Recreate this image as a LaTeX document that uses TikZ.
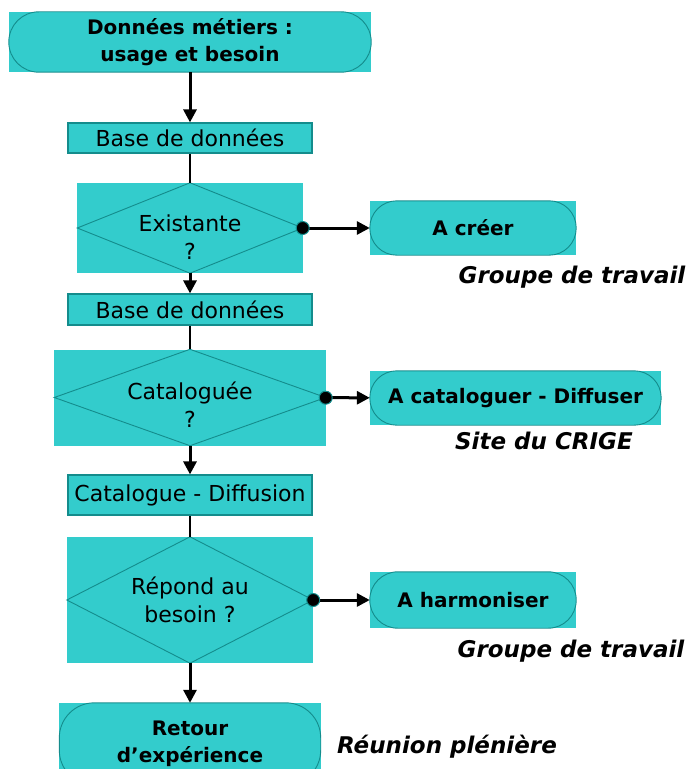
\documentclass[tikz,border=0pt]{standalone}
\usepackage{fontspec}
\setmainfont{DejaVu Sans}
\usetikzlibrary{arrows.meta}
\definecolor{turq}{RGB}{51,204,204}
\definecolor{turqdark}{RGB}{20,140,140}

\begin{document}
\begin{tikzpicture}[x=1bp, y=-1bp,
	every node/.style={fill=turq, inner sep=0pt, align=center, font=\fontsize{22bp}{28bp}\selectfont},
	gras/.style={font=\fontsize{20bp}{27bp}\selectfont\bfseries},
	boite/.style={draw=turqdark, line width=1.2bp},
	note/.style={fill=none, anchor=base, font=\fontsize{23bp}{28bp}\selectfont\bfseries\itshape},
	contour/.style={draw=turqdark, line width=0.9bp},
	lien/.style={line width=1.8bp},
	fleche/.style={line width=3bp, -{Triangle[length=13bp,width=13bp]}},
	sortie/.style={line width=3bp, shorten <=-7bp, {Circle[length=14bp,line width=1bp,color=turqdark,fill=black]}-{Triangle[length=13bp,width=13bp]}}]
	\useasboundingbox (0,0) rectangle (696,769);
	% colonne principale
	\node[gras, minimum width=362bp, minimum height=60bp] (donnees) at (190,42) {Données métiers :\\usage et besoin};
	\node[boite, minimum width=244bp, minimum height=30bp] (base1) at (190,138) {Base de données};
	\node[minimum width=225bp, minimum height=90bp] (exist) at (190,228) {\rule{0pt}{35bp}Existante\\?};
	\node[boite, minimum width=244bp, minimum height=31bp] (base2) at (190,309.5) {Base de données};
	\node[minimum width=271bp, minimum height=96bp] (catal) at (190,397.5) {\rule{0pt}{31bp}Cataloguée\\?};
	\node[boite, minimum width=244bp, minimum height=40bp] (catdiff) at (190,495) {Catalogue - Diffusion};
	\node[minimum width=246bp, minimum height=126bp] (repond) at (190,600) {Répond au\\besoin ?};
	\node[gras, minimum width=261bp, minimum height=82bp] (retour) at (190,744) {Retour\\d’expérience};
	% actions
	\node[gras, minimum width=206bp, minimum height=54bp] (creer) at (473,228) {A créer};
	\node[gras, minimum width=291bp, minimum height=54bp] (acatal) at (515.5,398) {A cataloguer - Diffuser};
	\node[gras, minimum width=206bp, minimum height=56bp] (harmo) at (473,600) {A harmoniser};
	% qui
	\node[note] (gt1) at (572,283) {Groupe de travail};
	\node[note] (crige) at (544,449) {Site du CRIGE};
	\node[note] (gt2) at (571,657) {Groupe de travail};
	\node[note] (pleniere) at (447,753) {Réunion plénière};
	% formes
	\foreach \n in {exist,catal,repond}
		\draw[contour] (\n.north) -- (\n.east) -- (\n.south) -- (\n.west) -- cycle;
	\foreach \n/\rad in {donnees/30,creer/27,acatal/27,harmo/28,retour/35}
		\draw[contour, rounded corners=\rad bp] (\n.north west) rectangle (\n.south east);
	% liens
	\foreach \a/\b in {donnees/base1,exist/base2,catal/catdiff,repond/retour}
		\draw[fleche] (\a) -- (\b);
	\foreach \a/\b in {base1/exist,base2/catal,catdiff/repond}
		\draw[lien] (\a) -- (\b);
	\foreach \a/\b in {exist/creer,catal/acatal,repond/harmo}
		\draw[sortie] (\a) -- (\b);
\end{tikzpicture}
\end{document}
